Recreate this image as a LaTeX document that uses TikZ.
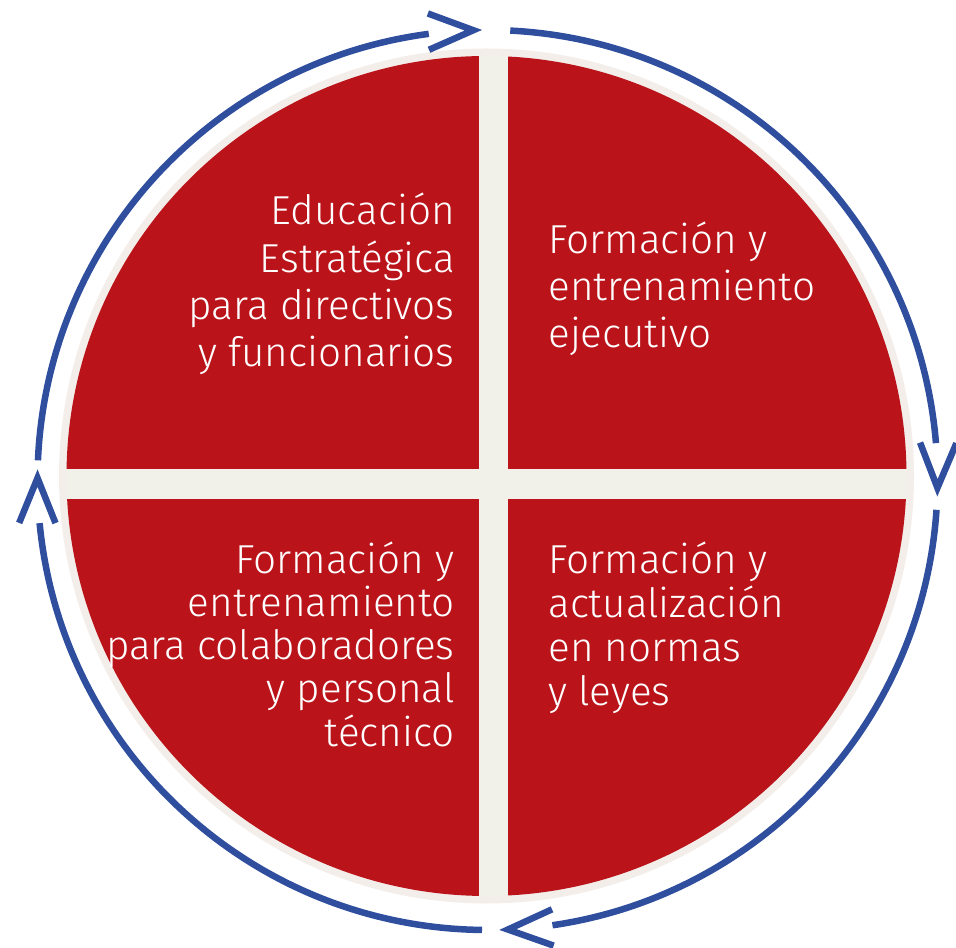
\documentclass[tikz,border=0pt]{standalone}
\usepackage{fontspec}
\setmainfont{Fira Sans Light}
\usetikzlibrary{calc}

\definecolor{quadred}{HTML}{BA141A}
\definecolor{cycleblue}{HTML}{2F4E9E}
\definecolor{crossbeige}{HTML}{F1F0E9}
\definecolor{ringbeige}{HTML}{F4EEEB}

\begin{document}
\begin{tikzpicture}[line cap=round]
  \tikzset{
    flow/.style={cycleblue, line width=0.13cm, line cap=butt},
    quad/.style={fill=quadred},
    label/.style={text=white, inner sep=0pt, font=\fontsize{23}{27}\selectfont}
  }
  \useasboundingbox (0,0) rectangle (19.12,18.94);

  \coordinate (hub) at (9.73,9.42);
  \coordinate (ring) at (9.75,9.34);

  % Beige disc with red quadrants
  \fill[ringbeige] (hub) circle (8.55);
  \fill[crossbeige] (hub) circle (8.40);
  \begin{scope}
    \clip (hub) circle (8.40);
    \fill[quad] (0,9.56) rectangle (9.58,19);
    \fill[quad] (10.16,9.56) rectangle (19.2,19);
    \fill[quad] (0,0) rectangle (9.58,8.96);
    \fill[quad] (10.16,0) rectangle (19.2,8.96);
  \end{scope}

  % Labels (anchored at the last line)
  \node[label, align=right, anchor=base east] (edu) at (9.10,11.60)
    {Educación\\Estratégica\\para directivos\\y funcionarios};
  \node[label, align=left, anchor=base west] (ejec) at (10.96,11.98)
    {Formación y\\entrenamiento\\ejecutivo};
  \node[label, align=right, anchor=base east,
        font=\fontsize{23}{24.5}\selectfont] (colab) at (9.10,4.02)
    {Formación y\\entrenamiento\\para colaboradores\\y personal\\técnico};
  \node[label, align=left, anchor=base west,
        font=\fontsize{23}{25}\selectfont] (leyes) at (10.96,4.84)
    {Formación y\\actualización\\en normas\\y leyes};

  % Cycle arcs
  \draw[flow] (ring) ++(177.5:9) arc[start angle=177.5, end angle=97.5, radius=9];
  \draw[flow] (ring) ++(87.1:9) arc[start angle=87.1, end angle=4.7, radius=9];
  \draw[flow] (ring) ++(-3.8:9) arc[start angle=-3.8, end angle=-81.7, radius=9];
  \draw[flow] (ring) ++(-90.7:9) arc[start angle=-90.7, end angle=-174.5, radius=9];

  % Open arrow heads
  \coordinate (tipn) at ($(ring)+(91.8:9)$);
  \coordinate (tipe) at ($(ring)+(-1:9)$);
  \coordinate (tips) at ($(ring)+(-87.4:9)$);
  \coordinate (tipw) at ($(ring)+(179.75:9)$);
  \draw[flow, line join=miter] ($(tipn)+(203.8:0.97)$) -- (tipn) -- ($(tipn)+(159.8:0.97)$);
  \draw[flow, line join=miter] ($(tipe)+(111:0.97)$) -- (tipe) -- ($(tipe)+(67:0.97)$);
  \draw[flow, line join=miter] ($(tips)+(24.6:0.97)$) -- (tips) -- ($(tips)+(-19.4:0.97)$);
  \draw[flow, line join=miter] ($(tipw)+(291.75:0.97)$) -- (tipw) -- ($(tipw)+(247.75:0.97)$);
\end{tikzpicture}
\end{document}
